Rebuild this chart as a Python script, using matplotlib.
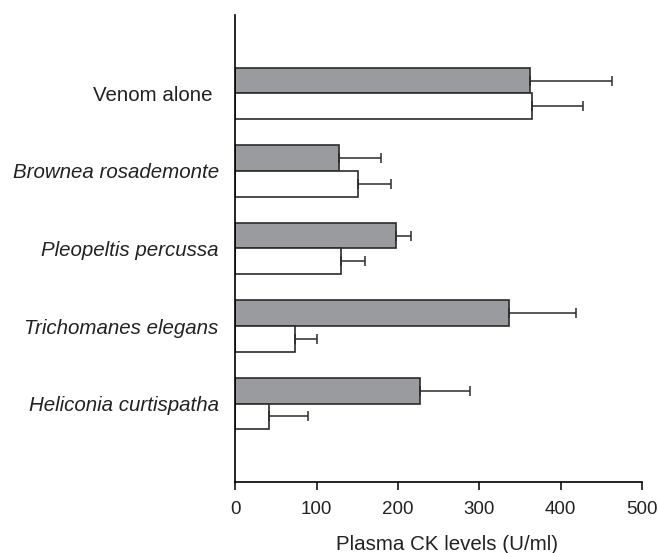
import matplotlib
matplotlib.use("Agg")
import matplotlib.pyplot as plt
import numpy as np

# data
groups = ["Venom alone ", "Brownea rosademonte", "Pleopeltis percussa",
          "Trichomanes elegans", "Heliconia curtispatha"]
italic = [False, True, True, True, True]
gray_vals = [362, 127, 197, 336, 227]
gray_err = [101, 52, 19, 83, 62]
white_vals = [365, 151, 130, 74, 42]
white_err = [63, 41, 29, 27, 47]

plt.rcParams['font.family'] = ['Liberation Sans', 'DejaVu Sans']

fig = plt.figure(figsize=(6.58, 5.53), dpi=100)
ax = fig.add_axes([0.3576, 0.1284, 0.618, 0.8445])

y = np.arange(len(groups))
h = 0.33
ax.barh(y - h / 2, gray_vals, height=h, color="#9a9b9f", edgecolor="#2b2b2b", linewidth=1.2)
ax.barh(y + h / 2, white_vals, height=h, color="white", edgecolor="#2b2b2b", linewidth=1.2)
ax.errorbar(gray_vals, y - h / 2, xerr=[np.zeros(5), gray_err], fmt="none",
            ecolor="#2b2b2b", elinewidth=1.1, capsize=3.6, capthick=1.1)
ax.errorbar(white_vals, y + h / 2, xerr=[np.zeros(5), white_err], fmt="none",
            ecolor="#2b2b2b", elinewidth=1.1, capsize=3.6, capthick=1.1)

ax.set_xlim(0, 500)
ax.set_ylim(5.01, -1.01)
ax.set_xticks([0, 100, 200, 300, 400, 500])
ax.tick_params(axis="x", direction="out", length=6, width=1.1, labelsize=13.5, pad=8,
               labelcolor="#222222")
ax.set_yticks(y)
ax.set_yticklabels(groups, fontsize=14.8, color="#222222")
for lbl, it in zip(ax.get_yticklabels(), italic):
    if it:
        lbl.set_style("italic")
ax.tick_params(axis="y", length=0, pad=12)

ax.spines["top"].set_visible(False)
ax.spines["right"].set_visible(False)
ax.spines["left"].set_linewidth(1.2)
ax.spines["bottom"].set_linewidth(1.2)
ax.set_xlabel("Plasma CK levels (U/ml)", fontsize=14.8, color="#222222", va="center")
ax.xaxis.set_label_coords(0.52, -0.133)

fig.savefig("out.png", dpi=100)
